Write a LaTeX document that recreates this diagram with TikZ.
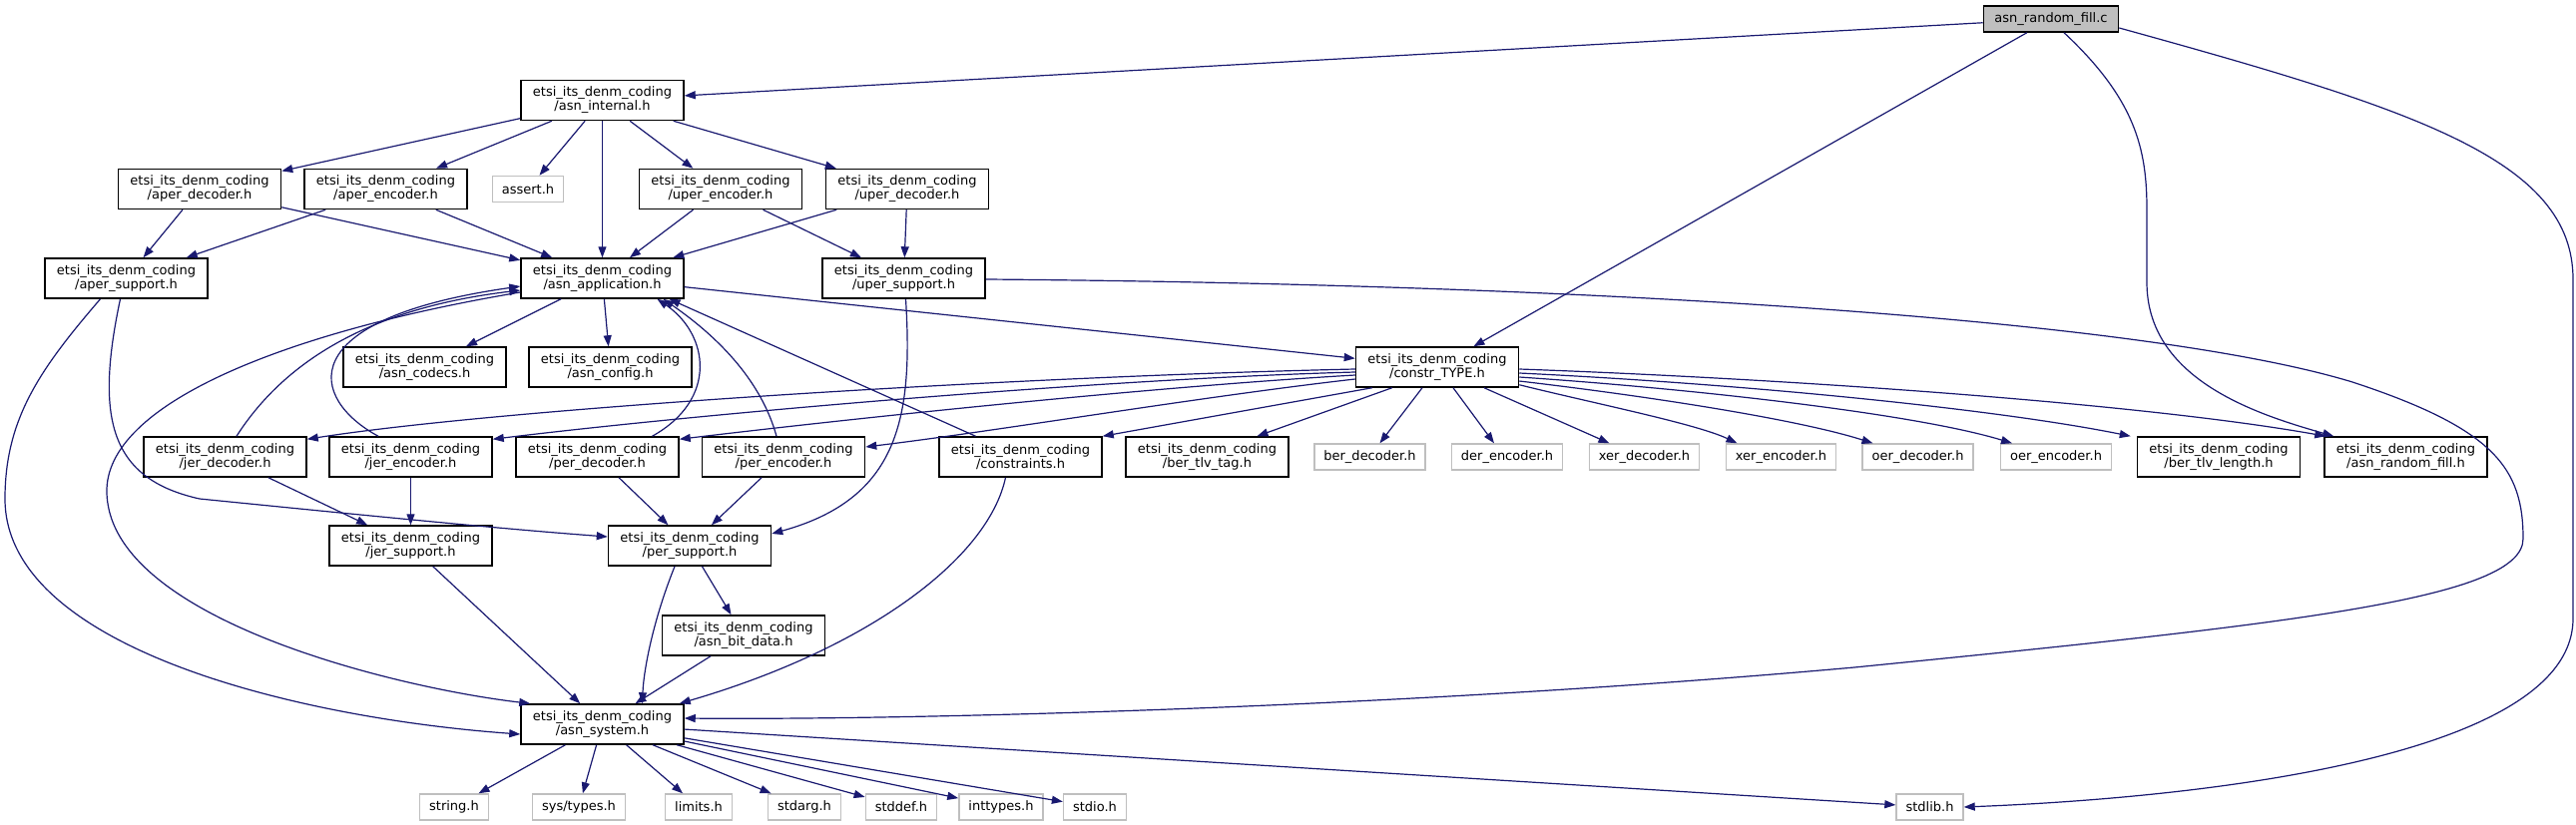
\documentclass[tikz,border=0pt]{standalone}
\usepackage{fontspec}
\setmainfont{DejaVu Sans}
\usetikzlibrary{arrows.meta,calc}
\definecolor{edgec}{HTML}{191970}
\definecolor{grayb}{HTML}{BFBFBF}
\begin{document}
\begin{tikzpicture}[x=1pt,y=-1pt,
  lbl/.style={font=\fontsize{13}{14}\selectfont},
  hbox/.style={lbl,draw=black,line width=1.5pt,fill=white,minimum width=163pt,minimum height=40pt,inner sep=0pt,align=center},
  gbox/.style={lbl,draw=grayb,line width=1.4pt,fill=white,minimum height=26pt,inner xsep=9.5pt,inner ysep=0pt},
  rbox/.style={lbl,draw=black,line width=1.5pt,fill=grayb,minimum height=26pt,inner xsep=11pt,inner ysep=0pt},
  e/.style={draw=edgec,line width=1.2pt,-{Triangle[length=11pt,width=8pt]}}]
\fill[white] (0,0) rectangle (2581,827);
\useasboundingbox (0,0) rectangle (2581,827);
% nodes
\node[rbox] (root) at (2055,19) {asn\_random\_fill.c};
\node[hbox] (internal) at (603.5,100.5) {etsi\_its\_denm\_coding\\/asn\_internal.h};
\node[hbox] (aperdec) at (200,189.5) {etsi\_its\_denm\_coding\\/aper\_decoder.h};
\node[hbox] (aperenc) at (386.5,189.5) {etsi\_its\_denm\_coding\\/aper\_encoder.h};
\node[gbox] (assert) at (529,189.5) {assert.h};
\node[hbox] (uperenc) at (722,189.5) {etsi\_its\_denm\_coding\\/uper\_encoder.h};
\node[hbox] (uperdec) at (909,189.5) {etsi\_its\_denm\_coding\\/uper\_decoder.h};
\node[hbox] (apersup) at (126.5,279) {etsi\_its\_denm\_coding\\/aper\_support.h};
\node[hbox] (app) at (603.5,279) {etsi\_its\_denm\_coding\\/asn\_application.h};
\node[hbox] (upersup) at (905.5,279) {etsi\_its\_denm\_coding\\/uper\_support.h};
\node[hbox] (codecs) at (425.5,368) {etsi\_its\_denm\_coding\\/asn\_codecs.h};
\node[hbox] (config) at (611.5,368) {etsi\_its\_denm\_coding\\/asn\_config.h};
\node[hbox] (constr) at (1440,368) {etsi\_its\_denm\_coding\\/constr\_TYPE.h};
\node[hbox] (jerdec) at (225.5,458) {etsi\_its\_denm\_coding\\/jer\_decoder.h};
\node[hbox] (jerenc) at (411.5,458) {etsi\_its\_denm\_coding\\/jer\_encoder.h};
\node[hbox] (perdec) at (598.5,458) {etsi\_its\_denm\_coding\\/per\_decoder.h};
\node[hbox] (perenc) at (785,458) {etsi\_its\_denm\_coding\\/per\_encoder.h};
\node[hbox] (constraints) at (1022.5,458) {etsi\_its\_denm\_coding\\/constraints.h};
\node[hbox] (bertag) at (1209.5,458) {etsi\_its\_denm\_coding\\/ber\_tlv\_tag.h};
\node[gbox] (berdec) at (1372.5,458) {ber\_decoder.h};
\node[gbox] (derenc) at (1510,458) {der\_encoder.h};
\node[gbox] (xerdec) at (1647.5,458) {xer\_decoder.h};
\node[gbox] (xerenc) at (1784.5,458) {xer\_encoder.h};
\node[gbox] (oerdec) at (1921.5,458) {oer\_decoder.h};
\node[gbox] (oerenc) at (2060,458) {oer\_encoder.h};
\node[hbox] (berlen) at (2223,458) {etsi\_its\_denm\_coding\\/ber\_tlv\_length.h};
\node[hbox] (randh) at (2410.5,458) {etsi\_its\_denm\_coding\\/asn\_random\_fill.h};
\node[hbox] (jersup) at (411.5,547) {etsi\_its\_denm\_coding\\/jer\_support.h};
\node[hbox] (persup) at (691,547) {etsi\_its\_denm\_coding\\/per\_support.h};
\node[hbox] (bitdata) at (745,637) {etsi\_its\_denm\_coding\\/asn\_bit\_data.h};
\node[hbox] (system) at (603.5,726) {etsi\_its\_denm\_coding\\/asn\_system.h};
\node[gbox] (string) at (455,809) {string.h};
\node[gbox] (systypes) at (580,809) {sys/types.h};
\node[gbox] (limits) at (700,809) {limits.h};
\node[gbox] (stdarg) at (806,809) {stdarg.h};
\node[gbox] (stddef) at (903,809) {stddef.h};
\node[gbox] (inttypes) at (1003,809) {inttypes.h};
\node[gbox] (stdio) at (1097,809) {stdio.h};
\node[gbox] (stdlib) at (1933.5,809) {stdlib.h};
% straight edges
\draw[e] (root) -- (internal);
\draw[e] (root) -- (constr);
\draw[e] (internal) -- (aperdec);
\draw[e] (internal) -- (aperenc);
\draw[e] (internal) -- (assert);
\draw[e] (internal) -- (app);
\draw[e] (internal) -- (uperenc);
\draw[e] (internal) -- (uperdec);
\draw[e] (aperdec) -- (apersup);
\draw[e] (aperdec) -- (app);
\draw[e] (aperenc) -- (apersup);
\draw[e] (aperenc) -- (app);
\draw[e] (uperenc) -- (app);
\draw[e] (uperenc) -- (upersup);
\draw[e] (uperdec) -- (app);
\draw[e] (uperdec) -- (upersup);
\draw[e] (app) -- (codecs);
\draw[e] (app) -- (config);
\draw[e] (app) -- (constr);
\draw[e] (jerdec) -- (jersup);
\draw[e] (jerenc) -- (jersup);
\draw[e] (perdec) -- (persup);
\draw[e] (perenc) -- (persup);
\draw[e] (persup) -- (bitdata);
\draw[e] (bitdata) -- (system);
\draw[e] (jersup) -- (system);
\foreach \t in {string,systypes,limits,stdarg,stddef,inttypes,stdio,stdlib} \draw[e] (system) -- (\t);
% back edges to asn_application
\draw[e] ($(jerdec.north)+(11.5,0)$) .. controls (280,370) and (360,310) .. ($(app.west)+(0,12)$);
\draw[e] ($(jerenc.north)+(-32.5,0)$) .. controls (310,400) and (290,320) .. ($(app.west)+(0,8)$);
\draw[e] ($(perdec.north)+(55,0)$) .. controls (720,400) and (710,335) .. ($(app.south)+(55,0)$);
\draw[e] ($(perenc.north)+(-7,0)$) .. controls (765,390) and (730,345) .. ($(app.south)+(61,0)$);
\draw[e] ($(constraints.north)+(-45,0)$) -- ($(app.south)+(67,0)$);
% constr_TYPE fan
\draw[e] ($(constr.west)+(0,2)$) .. controls (1000,378) and (500,410) .. ($(jerdec.north east)+(0,3)$);
\draw[e] ($(constr.west)+(0,5)$) .. controls (1100,380) and (700,415) .. ($(jerenc.north east)+(0,3)$);
\draw[e] ($(constr.west)+(0,8)$) .. controls (1150,388) and (850,420) .. ($(perdec.north east)+(0,3)$);
\draw[e] ($(constr.west)+(0,12)$) .. controls (1200,398) and (1000,432) .. ($(perenc.east)+(0,-10)$);
\draw[e] ($(constr.south west)+(17,0)$) -- (constraints.north east);
\draw[e] ($(constr.south west)+(37,0)$) -- ($(bertag.north)+(50,0)$);
\draw[e] ($(constr.south)+(-15,0)$) -- ($(berdec.north)+(10,0)$);
\draw[e] ($(constr.south)+(16,0)$) -- ($(derenc.north)+(-13,0)$);
\draw[e] ($(constr.south)+(47,0)$) -- ($(xerdec.north)+(-35,0)$);
\draw[e] ($(constr.south east)+(0,-3)$) .. controls (1600,405) and (1700,425) .. ($(xerenc.north)+(-44,0)$);
\draw[e] ($(constr.east)+(0,14)$) .. controls (1650,397) and (1800,420) .. ($(oerdec.north)+(-45,0)$);
\draw[e] ($(constr.east)+(0,10)$) .. controls (1700,390) and (1920,415) .. ($(oerenc.north)+(-44,0)$);
\draw[e] ($(constr.east)+(0,6)$) .. controls (1750,385) and (2000,410) .. ($(berlen.north west)+(-6,0)$);
\draw[e] ($(constr.east)+(0,2)$) .. controls (1800,380) and (2150,405) .. ($(randh.north west)+(2,0)$);
% long curves
\draw[e] ($(root.south)+(13,0)$) .. controls (2140,100) and (2151,150) .. (2151,210) -- (2151,283) .. controls (2151,380) and (2260,415) .. ($(randh.north west)+(10,0)$);
\draw[e] ($(root.east)+(0,9)$) .. controls (2420,110) and (2578,160) .. (2578,280) -- (2578,620) .. controls (2578,760) and (2200,800) .. (stdlib.east);
\draw[e] ($(upersup.east)+(0,1)$) .. controls (1600,285) and (2150,320) .. (2357,383) .. controls (2500,430) and (2528,470) .. (2528,540) .. controls (2528,600) and (2300,625) .. (1858,669) .. controls (1400,710) and (900,722) .. ($(system.east)+(0,-6)$);
\draw[e] ($(upersup.south)+(2,0)$) .. controls (915,420) and (900,500) .. ($(persup.east)+(0,-12)$);
\draw[e] ($(constraints.south)+(-15,0)$) .. controls (990,560) and (870,650) .. ($(system.north east)+(-5,0)$);
\draw[e] ($(persup.south)+(-15,0)$) .. controls (655,620) and (645,670) .. ($(system.north)+(40,0)$);
\draw[e] ($(apersup.south)+(-26,0)$) .. controls (40,370) and (5,420) .. (5,500) .. controls (5,650) and (300,720) .. ($(system.west)+(0,10)$);
\draw[e] ($(apersup.south)+(-6,0)$) .. controls (95,420) and (110,480) .. (200,500) .. controls (350,515) and (500,530) .. ($(persup.west)+(0,-9)$);
\draw[e] ($(app.west)+(0,14)$) .. controls (300,330) and (110,400) .. (107,490) .. controls (104,620) and (400,690) .. ($(system.north west)+(10,0)$);
\end{tikzpicture}
\end{document}
